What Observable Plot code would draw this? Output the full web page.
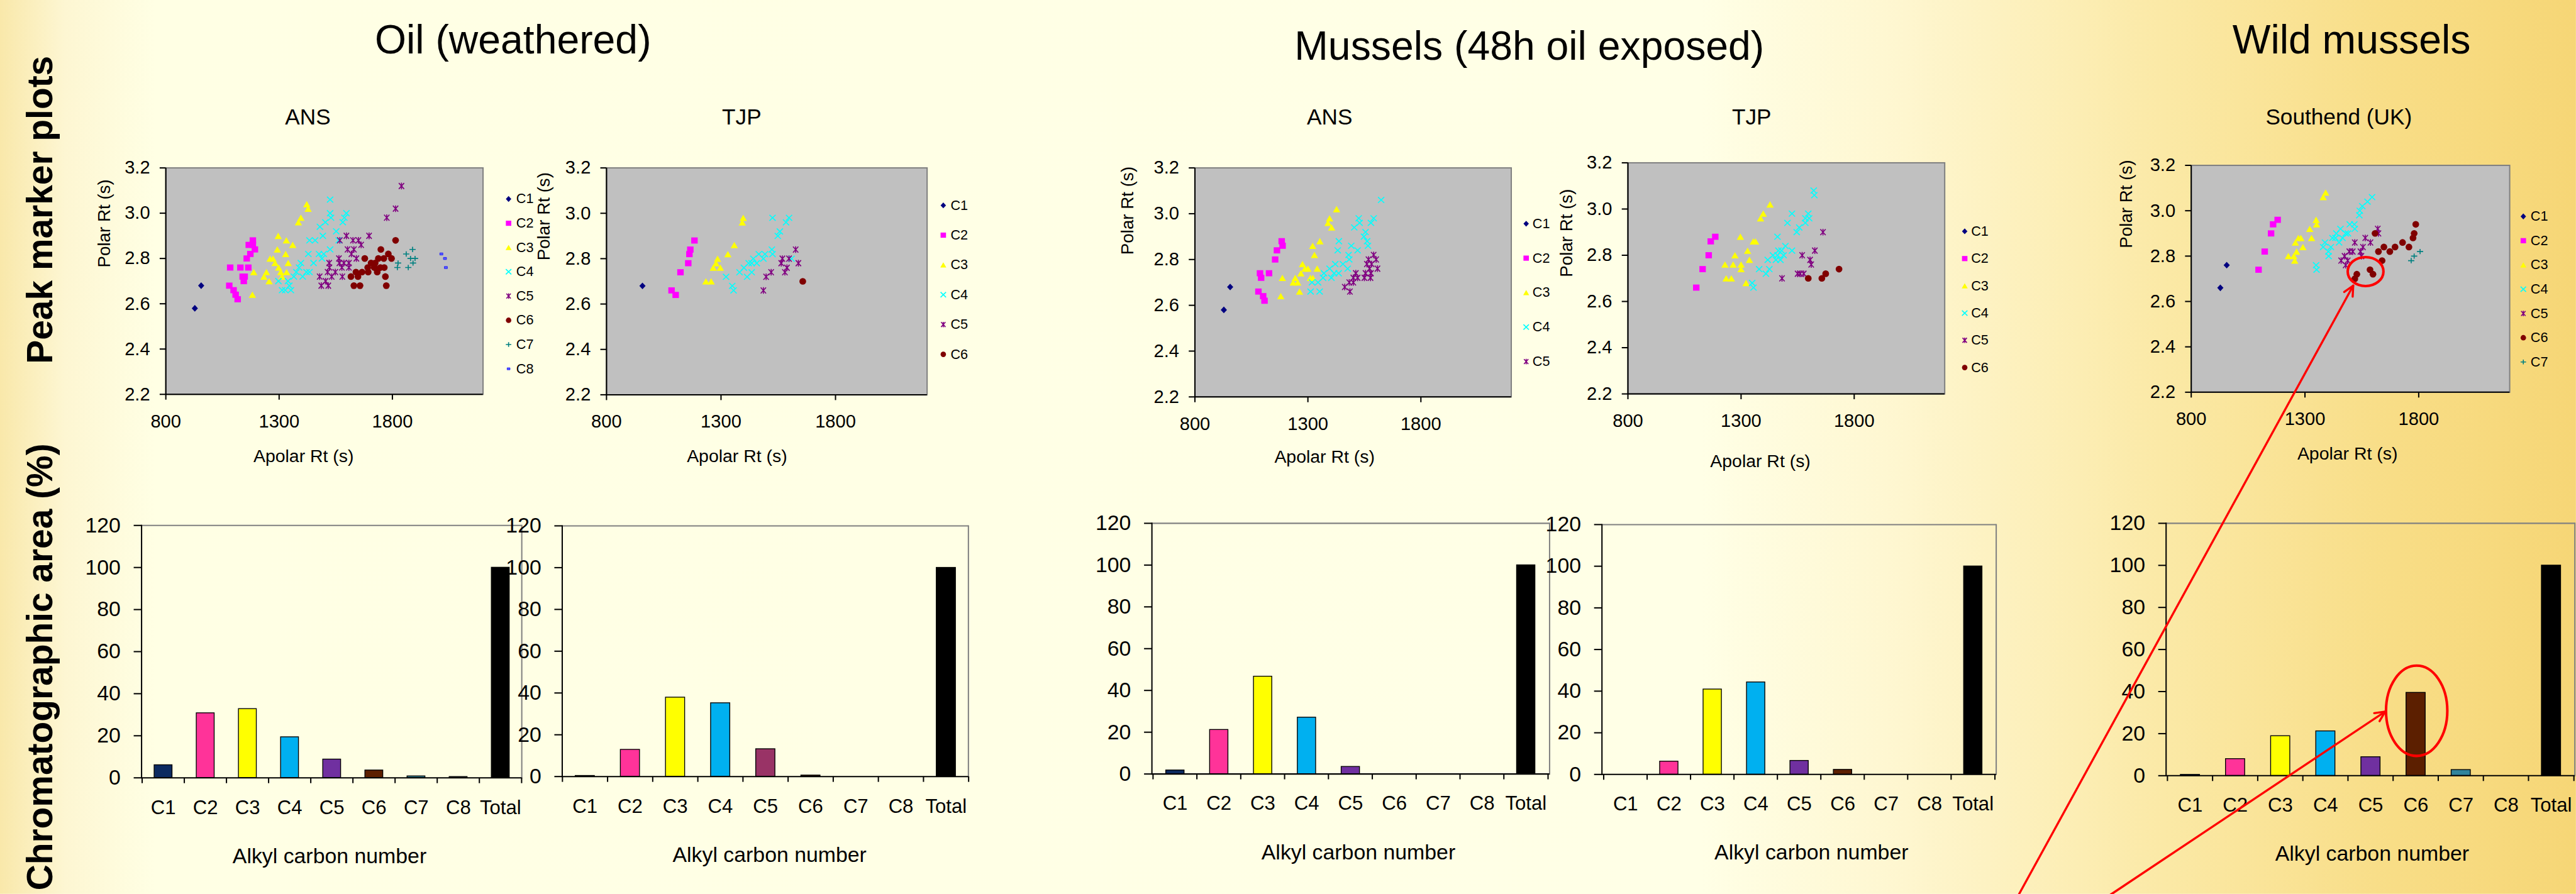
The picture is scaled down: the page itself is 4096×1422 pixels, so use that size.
<!DOCTYPE html>
<html><head><meta charset="utf-8">
<script src="https://cdn.jsdelivr.net/npm/d3@7"></script>
<script src="https://cdn.jsdelivr.net/npm/@observablehq/plot@0.6"></script>
<style>
html,body{margin:0;padding:0;width:4096px;height:1422px;overflow:hidden;background:#FFFFE6;}
#stage{position:absolute;left:0;top:0;width:6050px;height:2100px;transform:scale(0.677);transform-origin:0 0;
font-family:"Liberation Sans",Arial,Helvetica,sans-serif;
background:linear-gradient(90deg,#F9E8AA 0%,#FDF6D2 2.5%,#FFFFE4 6%,#FFFFE6 66%,#FEF6CF 74%,#FBE9A6 84%,#F8DD86 93%,#F6D676 100%);}
</style></head>
<body><div id="stage"></div>
<script>
// ---------- DATA ----------
const xTicks = [800, 1300, 1800];
const yTicks = [2.2, 2.4, 2.6, 2.8, 3.0, 3.2];
const xDomain = [800, 2200];
const yDomain = [2.2, 3.2];
const barCats = ["C1","C2","C3","C4","C5","C6","C7","C8","Total"];
const barTicks = [0, 20, 40, 60, 80, 100, 120];

const oilANS = {
  C1: [[956,2.68],[928,2.58]],
  C2: [[1184,2.88],[1184,2.86],[1166,2.86],[1193,2.84],[1173,2.82],[1157,2.80],[1084,2.76],[1129,2.76],[1164,2.76],[1148,2.72],[1139,2.72],[1144,2.70],[1080,2.68],[1099,2.66],[1108,2.64],[1117,2.62]],
  C3: [[1422,3.04],[1428,3.02],[1396,2.98],[1385,2.96],[1296,2.90],[1332,2.88],[1360,2.86],[1292,2.84],[1329,2.82],[1260,2.80],[1273,2.80],[1282,2.78],[1340,2.78],[1298,2.76],[1188,2.74],[1244,2.74],[1307,2.74],[1333,2.74],[1233,2.72],[1313,2.72],[1256,2.70],[1182,2.64]],
  C4: [[1525,3.06],[1525,3.00],[1597,3.00],[1529,2.98],[1588,2.98],[1504,2.96],[1581,2.96],[1480,2.94],[1552,2.92],[1493,2.90],[1434,2.88],[1459,2.88],[1563,2.88],[1525,2.84],[1429,2.82],[1476,2.82],[1497,2.82],[1489,2.80],[1396,2.78],[1452,2.78],[1388,2.76],[1376,2.74],[1421,2.74],[1434,2.74],[1365,2.72],[1404,2.72],[1297,2.70],[1339,2.70],[1345,2.68],[1313,2.66],[1327,2.66],[1352,2.66]],
  C5: [[1840,3.12],[1814,3.02],[1775,2.98],[1597,2.90],[1697,2.90],[1568,2.88],[1626,2.88],[1650,2.88],[1662,2.86],[1602,2.84],[1630,2.84],[1619,2.82],[1564,2.80],[1641,2.80],[1521,2.78],[1566,2.78],[1586,2.78],[1608,2.78],[1522,2.76],[1577,2.76],[1608,2.76],[1548,2.74],[1514,2.74],[1479,2.72],[1532,2.72],[1579,2.72],[1505,2.70],[1486,2.68],[1517,2.68]],
  C6: [[1814,2.88],[1749,2.84],[1782,2.82],[1796,2.80],[1678,2.80],[1738,2.80],[1762,2.80],[1706,2.78],[1724,2.78],[1691,2.76],[1720,2.76],[1747,2.76],[1764,2.76],[1639,2.74],[1666,2.74],[1693,2.74],[1733,2.74],[1617,2.72],[1648,2.72],[1769,2.72],[1630,2.68],[1657,2.68],[1773,2.68]],
  C7: [[1889,2.84],[1861,2.82],[1880,2.80],[1900,2.80],[1825,2.78],[1891,2.78],[1822,2.76],[1870,2.76]],
  C8: [[2016,2.82],[2032,2.80],[2036,2.76]]
};
const oilTJP = {
  C1: [[957,2.68]],
  C2: [[1184,2.88],[1166,2.84],[1162,2.82],[1157,2.78],[1123,2.74],[1084,2.66],[1102,2.64]],
  C3: [[1397,2.98],[1393,2.96],[1358,2.86],[1330,2.82],[1285,2.80],[1278,2.78],[1266,2.76],[1297,2.76],[1234,2.70],[1257,2.70]],
  C4: [[1525,2.98],[1597,2.98],[1584,2.96],[1557,2.92],[1548,2.90],[1522,2.84],[1525,2.82],[1465,2.82],[1492,2.82],[1485,2.80],[1608,2.80],[1441,2.80],[1434,2.78],[1456,2.78],[1421,2.78],[1400,2.76],[1434,2.74],[1381,2.74],[1414,2.72],[1322,2.72],[1349,2.68],[1355,2.66]],
  C5: [[1626,2.84],[1568,2.80],[1597,2.80],[1563,2.78],[1638,2.78],[1588,2.76],[1519,2.74],[1579,2.74],[1497,2.72],[1485,2.66]],
  C6: [[1657,2.70]]
};
const musANS = {
  C1: [[956,2.68],[928,2.58]],
  C2: [[1184,2.88],[1188,2.86],[1163,2.84],[1155,2.80],[1088,2.74],[1128,2.74],[1093,2.72],[1081,2.66],[1102,2.64],[1108,2.62]],
  C3: [[1427,3.02],[1396,2.98],[1389,2.96],[1405,2.94],[1353,2.88],[1321,2.86],[1329,2.82],[1276,2.78],[1287,2.76],[1300,2.76],[1341,2.76],[1269,2.74],[1187,2.72],[1244,2.72],[1311,2.72],[1322,2.72],[1235,2.70],[1255,2.70],[1263,2.66],[1180,2.64]],
  C4: [[1624,3.06],[1525,2.98],[1591,2.98],[1529,2.96],[1579,2.96],[1505,2.94],[1555,2.92],[1548,2.90],[1562,2.88],[1437,2.88],[1492,2.86],[1566,2.86],[1432,2.84],[1520,2.84],[1480,2.82],[1483,2.80],[1421,2.78],[1455,2.78],[1396,2.76],[1476,2.76],[1371,2.74],[1436,2.74],[1416,2.74],[1367,2.72],[1404,2.72],[1318,2.70],[1345,2.70],[1312,2.66],[1352,2.66]],
  C5: [[1591,2.82],[1602,2.80],[1568,2.80],[1561,2.78],[1582,2.78],[1608,2.76],[1573,2.76],[1512,2.74],[1555,2.74],[1579,2.74],[1501,2.72],[1520,2.72],[1550,2.72],[1577,2.72],[1483,2.70],[1501,2.70],[1463,2.68],[1486,2.66]]
};
const musTJP = {
  C1: [],
  C2: [[1186,2.88],[1166,2.86],[1157,2.80],[1130,2.74],[1102,2.66]],
  C3: [[1428,3.02],[1398,2.98],[1386,2.96],[1297,2.88],[1354,2.86],[1364,2.86],[1329,2.82],[1273,2.80],[1337,2.78],[1229,2.76],[1265,2.76],[1300,2.76],[1300,2.74],[1234,2.70],[1257,2.70],[1322,2.68]],
  C4: [[1621,3.08],[1624,3.06],[1525,2.98],[1597,2.98],[1584,2.96],[1601,2.96],[1505,2.94],[1584,2.94],[1557,2.92],[1546,2.90],[1461,2.88],[1496,2.84],[1525,2.82],[1465,2.82],[1479,2.82],[1488,2.80],[1441,2.80],[1461,2.80],[1418,2.78],[1454,2.78],[1474,2.78],[1425,2.74],[1380,2.74],[1410,2.72],[1349,2.68],[1355,2.66]],
  C5: [[1662,2.90],[1626,2.82],[1570,2.80],[1605,2.78],[1610,2.76],[1550,2.72],[1561,2.72],[1577,2.72],[1481,2.70]],
  C6: [[1597,2.70],[1657,2.70],[1674,2.72],[1733,2.74]]
};
const wildSouthend = {
  C1: [[956,2.76],[928,2.66]],
  C2: [[1180,2.96],[1160,2.94],[1151,2.90],[1123,2.82],[1096,2.74]],
  C3: [[1391,3.08],[1380,3.06],[1349,2.96],[1351,2.94],[1321,2.92],[1329,2.88],[1271,2.88],[1282,2.88],[1258,2.86],[1291,2.84],[1263,2.82],[1227,2.80],[1251,2.80],[1255,2.78]],
  C4: [[1595,3.06],[1575,3.04],[1552,3.02],[1541,3.00],[1539,2.98],[1497,2.94],[1517,2.94],[1519,2.92],[1456,2.92],[1479,2.90],[1489,2.90],[1438,2.90],[1465,2.88],[1421,2.88],[1434,2.88],[1450,2.86],[1388,2.86],[1414,2.84],[1380,2.84],[1403,2.82],[1404,2.80],[1349,2.76],[1351,2.74]],
  C5: [[1620,2.92],[1623,2.90],[1565,2.88],[1519,2.86],[1588,2.86],[1555,2.84],[1495,2.82],[1510,2.82],[1544,2.82],[1548,2.80],[1474,2.80],[1459,2.78],[1488,2.78],[1479,2.76]],
  C6: [[1787,2.94],[1780,2.90],[1775,2.88],[1608,2.90],[1729,2.86],[1757,2.84],[1696,2.84],[1647,2.84],[1623,2.82],[1673,2.82],[1639,2.78],[1586,2.74],[1599,2.72],[1528,2.72],[1519,2.70]],
  C7: [[1806,2.82],[1780,2.80],[1767,2.78]]
};

const oilANSBars = [6.1, 30.8, 32.8, 19.4, 8.8, 3.6, 0.8, 0.5, 100];
const oilTJPBars = [0.4, 12.9, 37.9, 35.2, 13.2, 0.6, 0, 0, 100];
const musANSBars = [1.8, 21.2, 46.7, 27.1, 3.5, 0, 0, 0, 100];
const musTJPBars = [0, 6.25, 40.9, 44.3, 6.6, 2.3, 0, 0, 100];
const wildBars   = [0.5, 8.0, 18.9, 21.2, 8.9, 39.5, 2.8, 0, 100];

// ---------- STYLE ----------
const FONT = '"Liberation Sans", Arial, Helvetica, sans-serif';
const stage = document.getElementById("stage");
const plotStyle = {background: "transparent", fontFamily: FONT, color: "#000", overflow: "visible", maxWidth: "none"};

const sym = {
  diamond: {draw(c, s) { const r = Math.sqrt(s / Math.PI); c.moveTo(0, -r * 1.07); c.lineTo(r, 0); c.lineTo(0, r * 1.07); c.lineTo(-r, 0); c.closePath(); }},
  square: {draw(c, s) { const r = Math.sqrt(s / Math.PI); c.rect(-r, -r * 0.95, 2 * r, 1.9 * r); }},
  triangle: {draw(c, s) { const r = Math.sqrt(s / Math.PI); c.moveTo(0, -r * 0.95); c.lineTo(r * 1.1, r * 0.95); c.lineTo(-r * 1.1, r * 0.95); c.closePath(); }},
  times: {draw(c, s) { const r = Math.sqrt(s / Math.PI); c.moveTo(-r, -r * 0.95); c.lineTo(r, r * 0.95); c.moveTo(-r, r * 0.95); c.lineTo(r, -r * 0.95); }},
  asterisk: {draw(c, s) { const r = Math.sqrt(s / Math.PI); c.moveTo(-r * 0.8, -r * 0.9); c.lineTo(r * 0.8, r * 0.9); c.moveTo(-r * 0.8, r * 0.9); c.lineTo(r * 0.8, -r * 0.9); c.moveTo(0, -r); c.lineTo(0, r); }},
  plus: {draw(c, s) { const r = Math.sqrt(s / Math.PI); c.moveTo(-r, 0); c.lineTo(r, 0); c.moveTo(0, -r * 0.85); c.lineTo(0, r * 0.85); }},
  circle: {draw(c, s) { const r = Math.sqrt(s / Math.PI); c.moveTo(r, 0); c.arc(0, 0, r, 0, 2 * Math.PI); }},
  rect: {draw(c, s) { const r = Math.sqrt(s / Math.PI); c.rect(-r, -r * 0.7, 2 * r, 1.4 * r); }}
};
const SERIES = {
  C1: {color: "#000080", symbol: sym.diamond, r: 7.3, filled: true},
  C2: {color: "#FF00FF", symbol: sym.square, r: 7.6, filled: true},
  C3: {color: "#FFFF00", symbol: sym.triangle, r: 7.8, filled: true},
  C4: {color: "#00FFFF", symbol: sym.times, r: 7.3, filled: false},
  C5: {color: "#800080", symbol: sym.asterisk, r: 7.8, filled: false},
  C6: {color: "#800000", symbol: sym.circle, r: 7.9, filled: true},
  C7: {color: "#008080", symbol: sym.plus, r: 7.3, filled: false},
  C8: {color: "#0000FF", symbol: sym.rect, r: 3.6, filled: true, fill: "#5A5AFF", stroke: "#0000FF"}
};
function dotOpts(name, r) {
  const st = SERIES[name];
  return {symbol: st.symbol, r: r ?? st.r,
    fill: st.filled ? (st.fill || st.color) : "none",
    stroke: st.filled ? (st.stroke || "none") : st.color,
    strokeWidth: st.filled ? 1 : 2.4};
}

function place(svg, left, top) {
  svg.style.position = "absolute";
  svg.style.left = left + "px";
  svg.style.top = top + "px";
  stage.appendChild(svg);
}

// ---------- SCATTER PANELS ----------
function scatter(p, data) {
  const ml = 240, mr = 20, mt = 30, mb = 200;
  const names = Object.keys(data);
  const marks = [Plot.frame({fill: "#C0C0C0", stroke: "#808080", strokeWidth: 3})];
  for (const n of names) {
    marks.push(Plot.dot(data[n], {x: d => d[0], y: d => d[1], ...dotOpts(n)}));
  }
  marks.push(
    Plot.ruleX([xDomain[0]], {stroke: "#000", strokeWidth: 3}),
    Plot.ruleY([yDomain[0]], {stroke: "#000", strokeWidth: 3}),
    Plot.axisX({ticks: xTicks, tickSize: 13, tickPadding: 34, fontSize: 43, strokeWidth: 3, tickFormat: d => String(d), label: null}),
    Plot.axisY({ticks: yTicks, tickSize: 14, tickPadding: 23, fontSize: 43, strokeWidth: 3, tickFormat: d => d.toFixed(1), label: null}),
    Plot.text(["Apolar Rt (s)"], {text: d => d, frameAnchor: "bottom", dx: p.xtDx, dy: p.xtDy, fontSize: 42, lineAnchor: "bottom"}),
    Plot.text(["Polar Rt (s)"], {text: d => d, frameAnchor: "left", rotate: -90, dx: p.ytDx, dy: p.ytDy, fontSize: 41, lineAnchor: "middle"})
  );
  const svg = Plot.plot({
    width: p.R - p.L + ml + mr, height: p.B - p.T + mt + mb,
    marginLeft: ml, marginRight: mr, marginTop: mt, marginBottom: mb,
    x: {domain: xDomain}, y: {domain: yDomain},
    style: plotStyle, marks
  });
  place(svg, p.L - ml, p.T - mt);

  // legend
  const pad = 30, lm = 20;
  const lmarks = [];
  for (const n of names) {
    lmarks.push(Plot.dot([n], {x: 0, y: d => d, ...dotOpts(n, n === "C8" ? 3.4 : 6.4)}));
  }
  lmarks.push(Plot.text(names, {x: 0, y: d => d, text: d => d, textAnchor: "start", dx: p.tx - p.lx, fontSize: 32, lineAnchor: "middle"}));
  const leg = Plot.plot({
    width: 120, height: (p.ly1 - p.ly0) + 2 * pad,
    marginLeft: lm, marginRight: 0, marginTop: pad, marginBottom: pad,
    x: {domain: [0, 1], axis: null}, y: {type: "point", domain: names, axis: null},
    style: plotStyle, marks: lmarks
  });
  place(leg, p.lx - lm, p.ly0 - pad);
}

scatter({L: 389, R: 1134, T: 394, B: 926, xtDx: -49, xtDy: 159, ytDx: -144, ytDy: -32, lx: 1194, tx: 1212, ly0: 435, ly1: 898}, oilANS);
scatter({L: 1424, R: 2177, T: 394, B: 927, xtDx: -70, xtDy: 158, ytDx: -146, ytDy: -49, lx: 2215, tx: 2232, ly0: 445, ly1: 868}, oilTJP);
scatter({L: 2806, R: 3549, T: 394, B: 932, xtDx: -67, xtDy: 155, ytDx: -158, ytDy: -65, lx: 3584, tx: 3599, ly0: 483, ly1: 890}, musANS);
scatter({L: 3823, R: 4567, T: 382, B: 925, xtDx: -61, xtDy: 172, ytDx: -144, ytDy: -3, lx: 4614, tx: 4629, ly0: 509, ly1: 897}, musTJP);
scatter({L: 5146, R: 5894, T: 388, B: 921, xtDx: -7, xtDy: 159, ytDx: -152, ytDy: -72, lx: 5926, tx: 5943, ly0: 477, ly1: 880}, wildSouthend);

// ---------- BAR PANELS ----------
const basePalette = ["#0C2A60", "#FF3399", "#FFFF00", "#00B0F0", "#7030A0", "#5C1F00", "#31859C", "#1F1F5F", "#000000"];
const tjpPalette = ["#0C2A60", "#FF3399", "#FFFF00", "#00B0F0", "#993366", "#3A1A10", "#31859C", "#1F1F5F", "#000000"];

function bars(p, vals, colors) {
  const ml = 170, mr = 30, mt = 40, mb = 240;
  const rows = barCats.map((c, i) => ({cat: c, value: vals[i], color: colors[i]}));
  const step = (p.R - p.L) / barCats.length;
  const svg = Plot.plot({
    width: p.R - p.L + ml + mr, height: p.Z - p.T + mt + mb,
    marginLeft: ml, marginRight: mr, marginTop: mt, marginBottom: mb,
    x: {domain: barCats, paddingInner: 0.58, paddingOuter: 0.29},
    y: {domain: [0, 120]},
    color: {type: "identity"},
    style: plotStyle,
    marks: [
      Plot.ruleY([120], {stroke: "#808080", strokeWidth: 3}),
      Plot.frame({anchor: "right", stroke: "#808080", strokeWidth: 3}),
      Plot.barY(rows, {x: "cat", y: "value", fill: "color", stroke: "#000", strokeWidth: 2}),
      Plot.ruleY([0], {stroke: "#000", strokeWidth: 3}),
      Plot.frame({anchor: "left", stroke: "#000", strokeWidth: 3}),
      Plot.axisY({ticks: barTicks, tickSize: 18, tickPadding: 31, fontSize: 50, strokeWidth: 3, label: null}),
      Plot.axisX({tickSize: 13, tickFormat: () => "", dx: -step / 2, strokeWidth: 3, label: null}),
      Plot.axisX({ticks: ["Total"], tickSize: 13, tickFormat: () => "", dx: step / 2, strokeWidth: 3, label: null}),
      Plot.axisX({tickSize: 0, tickPadding: 52, fontSize: 46, label: null}),
      Plot.text(["Alkyl carbon number"], {text: d => d, frameAnchor: "bottom", dx: p.tDx, dy: 200, fontSize: 50, lineAnchor: "bottom"})
    ]
  });
  place(svg, p.L - ml, p.T - mt);
}

bars({L: 332, R: 1225, T: 1234, Z: 1827, tDx: -5}, oilANSBars, basePalette);
bars({L: 1320, R: 2274, T: 1235, Z: 1824, tDx: 10}, oilTJPBars, tjpPalette);
bars({L: 2705, R: 3639, T: 1229, Z: 1818, tDx: 18}, musANSBars, basePalette);
bars({L: 3762, R: 4688, T: 1232, Z: 1819, tDx: 29}, musTJPBars, basePalette);
bars({L: 5087, R: 6047, T: 1229, Z: 1822, tDx: 4}, wildBars, basePalette);

// ---------- TITLES & ANNOTATIONS ----------
const ov = d3.select(stage).append("svg")
  .attr("width", 6050).attr("height", 2100)
  .style("position", "absolute").style("left", "0px").style("top", "0px")
  .style("overflow", "visible").style("pointer-events", "none")
  .attr("font-family", FONT);

const titles = [
  ["Oil (weathered)", 1205, 126, 95],
  ["Mussels (48h oil exposed)", 3592, 140, 95],
  ["Wild mussels", 5523, 126, 95],
  ["ANS", 723, 292, 52],
  ["TJP", 1742, 292, 52],
  ["ANS", 3123, 292, 52],
  ["TJP", 4114, 292, 52],
  ["Southend (UK)", 5493, 292, 52]
];
for (const [t, x, y, fs] of titles) {
  ov.append("text").attr("x", x).attr("y", y).attr("text-anchor", "middle")
    .attr("font-size", fs).attr("fill", "#000").text(t);
}
const sideLabels = [["Peak marker plots", 493], ["Chromatographic area (%)", 1567]];
for (const [t, y] of sideLabels) {
  ov.append("text").attr("transform", `translate(122,${y}) rotate(-90)`)
    .attr("text-anchor", "middle").attr("font-size", 84).attr("font-weight", "bold")
    .attr("fill", "#000").text(t);
}

const red = "#FF0000";
ov.append("ellipse").attr("cx", 5556).attr("cy", 638).attr("rx", 42).attr("ry", 34)
  .attr("fill", "none").attr("stroke", red).attr("stroke-width", 6);
ov.append("ellipse").attr("cx", 5676).attr("cy", 1670).attr("rx", 72).attr("ry", 106)
  .attr("fill", "none").attr("stroke", red).attr("stroke-width", 6);
function arrow(x0, y0, x1, y1) {
  ov.append("line").attr("x1", x0).attr("y1", y0).attr("x2", x1).attr("y2", y1)
    .attr("stroke", red).attr("stroke-width", 5);
  const a = Math.atan2(y0 - y1, x0 - x1), L = 26;
  for (const da of [-0.45, 0.45]) {
    ov.append("line").attr("x1", x1).attr("y1", y1)
      .attr("x2", x1 + L * Math.cos(a + da)).attr("y2", y1 + L * Math.sin(a + da))
      .attr("stroke", red).attr("stroke-width", 5).attr("stroke-linecap", "round");
  }
}
arrow(4737, 2110, 5527, 671);
arrow(4945, 2110, 5602, 1672);
</script>
</body></html>
